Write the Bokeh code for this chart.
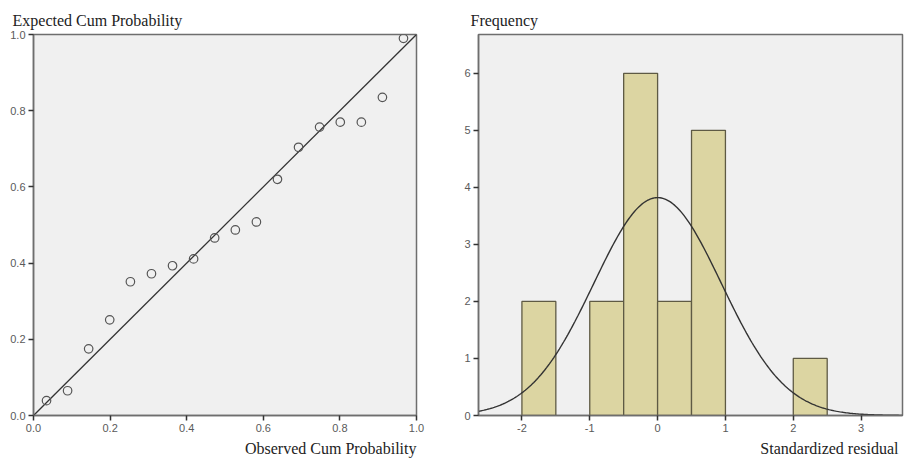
import numpy as np
from bokeh.plotting import figure
from bokeh.models import Title, FixedTicker, NumeralTickFormatter
from bokeh.layouts import row
from bokeh.embed import file_html
from bokeh.resources import INLINE

# P-P plot data
observed_cum = [0.034, 0.089, 0.144, 0.199, 0.253, 0.308, 0.363, 0.418, 0.473,
                0.527, 0.582, 0.637, 0.692, 0.747, 0.801, 0.856, 0.911, 0.966]
expected_cum = [0.039, 0.065, 0.175, 0.251, 0.351, 0.372, 0.393, 0.411, 0.466,
                0.487, 0.508, 0.620, 0.704, 0.757, 0.770, 0.770, 0.835, 0.990]
ref_line = [0.0, 1.0]
pp_ticks = [0.0, 0.2, 0.4, 0.6, 0.8, 1.0]

# Histogram data
bin_left = [-2.0, -1.0, -0.5, 0.0, 0.5, 2.0]
bin_right = [-1.5, -0.5, 0.0, 0.5, 1.0, 2.5]
freq = [2, 2, 6, 2, 5, 1]
resid_mean = 0.0
resid_sd = 0.94
n_obs = 18
bin_width = 0.5
hist_xticks = [-2, -1, 0, 1, 2, 3]
hist_yticks = [0, 1, 2, 3, 4, 5, 6]

BG = "#f0f0f0"
FRAME = "#6e6e6e"
TXT = "#5a5a5a"
SERIF = "Liberation Serif"
SANS = "Liberation Sans"
H = 460


def style(p, xticks, yticks, fmt):
    p.background_fill_color = BG
    p.border_fill_color = "white"
    p.outline_line_color = FRAME
    p.outline_line_width = 1.5
    p.xgrid.visible = False
    p.ygrid.visible = False
    p.xaxis.ticker = FixedTicker(ticks=xticks)
    p.yaxis.ticker = FixedTicker(ticks=yticks)
    for ax in (p.xaxis[0], p.yaxis[0]):
        ax.axis_line_color = FRAME
        ax.axis_line_width = 1.5
        ax.major_tick_line_color = "#333333"
        ax.major_tick_line_width = 1.5
        ax.major_tick_out = 5
        ax.major_tick_in = 0
        ax.minor_tick_line_color = None
        ax.major_label_text_font = SANS
        ax.major_label_text_font_size = "11px"
        ax.major_label_text_color = TXT
        ax.major_label_standoff = 3
    p.xaxis.formatter = NumeralTickFormatter(format=fmt)
    p.yaxis.formatter = NumeralTickFormatter(format=fmt)


def title(text, align, offset, standoff):
    return Title(text=text, align=align, offset=offset, text_font=SERIF,
                 text_font_size="16px", text_font_style="normal",
                 text_color="#222222", standoff=standoff)


# Left: P-P plot
p1 = figure(width=453, height=H, output_backend="svg", toolbar_location=None,
            x_range=(0, 1), y_range=(0, 1), min_border_left=33, min_border_right=37,
            min_border_top=34, min_border_bottom=H - 417, title=None)
style(p1, pp_ticks, pp_ticks, "0.0")
p1.add_layout(title("Expected Cum Probability", "left", -21, 11), "above")
p1.add_layout(title("Observed Cum Probability", "right", 0, 7), "below")
p1.line(ref_line, ref_line, line_color="#333333", line_width=1.3)
p1.scatter(observed_cum, expected_cum, marker="circle", size=8.5,
           fill_color=None, line_color="#555555", line_width=1.2)

# Right: histogram
p2 = figure(width=453, height=H, output_backend="svg", toolbar_location=None,
            x_range=(-2.64, 3.61), y_range=(0, 6.68), min_border_left=25,
            min_border_right=4, min_border_top=34, min_border_bottom=H - 417, title=None)
style(p2, hist_xticks, hist_yticks, "0")
p2.add_layout(title("Frequency", "left", -8, 11), "above")
p2.add_layout(title("Standardized residual", "right", 4, 7), "below")
p2.quad(left=bin_left, right=bin_right, bottom=0, top=freq,
        fill_color="#dcd5a2", line_color="#5e5a44", line_width=1.3)
xs = np.linspace(-2.64, 3.61, 300)
ys = n_obs * bin_width / (resid_sd * np.sqrt(2 * np.pi)) * np.exp(-0.5 * ((xs - resid_mean) / resid_sd) ** 2)
p2.line(xs, ys, line_color="#333333", line_width=1.4)

layout = row(p1, p2)
open("out.html", "w").write(file_html(layout, INLINE))
